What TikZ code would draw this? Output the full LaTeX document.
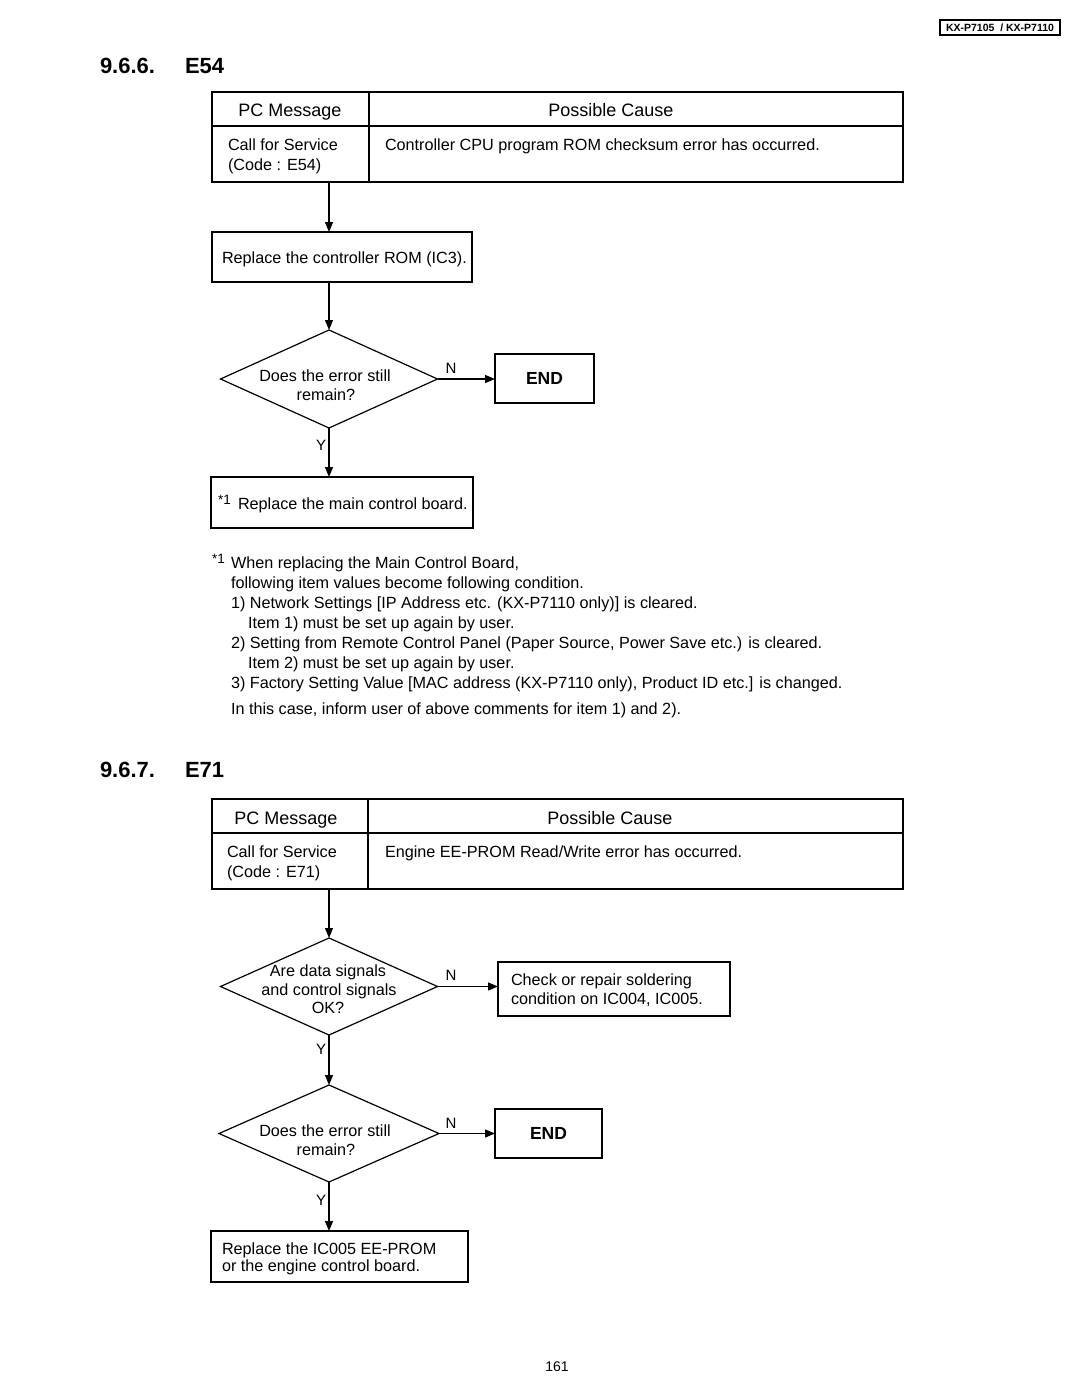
\documentclass[tikz,border=0pt]{standalone}
\usepackage{fontspec}
\setmainfont{Liberation Sans}
\usetikzlibrary{shapes.geometric,arrows.meta}
\begin{document}
\begin{tikzpicture}[x=1pt,y=-1pt,
  every node/.style={inner sep=0pt, outer sep=0pt, font=\fontsize{16.2}{19.5}\selectfont},
  frame/.style={draw, line width=1.3pt, rectangle, anchor=north west},
  dia/.style={draw, line width=1.2pt, diamond, inner sep=0pt},
  arr/.style={line width=1.3pt, -{Triangle[length=10pt,width=8pt]}},
  yn/.style={anchor=base, font=\fontsize{15}{15}\selectfont},
  tl/.style={anchor=base west},
  tc/.style={anchor=base},
  sup/.style={anchor=base west, font=\fontsize{13.5}{13.5}\selectfont},
  hd/.style={anchor=base west, font=\fontsize{22}{22}\selectfont\bfseries},
  th/.style={anchor=base, font=\fontsize{18}{18}\selectfont},
  endbox/.style={frame, font=\fontsize{17.5}{17.5}\selectfont\bfseries}
]
\useasboundingbox (0,0) rectangle (1080,1397);

% header tag
\node[frame, line width=1.1pt, minimum width=120pt, minimum height=15pt] (tag) at (940,20) {};
\node[font=\fontsize{10.5}{10.5}\selectfont\bfseries] (tagtxt) at (tag.center) {KX-P7105\ \ / KX-P7110};

% ===== 9.6.6 E54 =====
\node[hd] (h1a) at (100,73.5) {9.6.6.};
\node[hd] (h1b) at (185,73.5) {E54};

\node[frame, minimum width=691pt, minimum height=90pt] (t1) at (212,92) {};
\draw[line width=1.3pt] (212,126) -- (903,126);
\draw[line width=1.3pt] (369,92) -- (369,182);
\node[th] (t1h1) at (290,116.5) {PC Message};
\node[th] (t1h2) at (611,116.5) {Possible Cause};
\node[tl] (t1a) at (228,150) {Call for Service};
\node[tl] (t1b) at (228,170) {(Code : E54)};
\node[tl] (t1c) at (385,150) {Controller CPU program ROM checksum error has occurred.};

\node[frame, minimum width=260pt, minimum height=50pt] (b1) at (212,232) {};
\node[tl] (b1t) at (222,263) {Replace the controller ROM (IC3).};

\node[dia, minimum width=217pt, minimum height=98pt] (d1) at (329,379) {};
\node[tc] (d1a) at (325,381) {Does the error still};
\node[tc] (d1b) at (326,400) {remain?};

\node[endbox, minimum width=99pt, minimum height=49pt] (e1) at (495,354) {END};

\node[frame, minimum width=262pt, minimum height=51pt] (b3) at (211,477) {};
\node[sup] (b3s) at (218,504) {*1};
\node[tl] (b3t) at (238,509) {Replace the main control board.};

\draw[arr] (t1.south -| d1.north) -- (b1.north -| d1.north);
\draw[arr] (b1.south -| d1.north) -- (d1.north);
\draw[arr] (d1.east) -- (d1.east -| e1.west);
\draw[arr] (d1.south) -- (b3.north -| d1.south);
\node[yn] (n1) at (451,373) {N};
\node[yn] (y1) at (321,450) {Y};

% footnote
\node[sup] (f0s) at (212,563) {*1};
\node[tl] (f0) at (231,568) {When replacing the Main Control Board,};
\node[tl] (f1) at (231,588) {following item values become following condition.};
\node[tl] (f2) at (231,608) {1) Network Settings [IP Address etc. (KX-P7110 only)] is cleared.};
\node[tl] (f3) at (248,628) {Item 1) must be set up again by user.};
\node[tl] (f4) at (231,648) {2) Setting from Remote Control Panel (Paper Source, Power Save etc.) is cleared.};
\node[tl] (f5) at (248,668) {Item 2) must be set up again by user.};
\node[tl] (f6) at (231,688) {3) Factory Setting Value [MAC address (KX-P7110 only), Product ID etc.] is changed.};
\node[tl] (f7) at (231,714) {In this case, inform user of above comments for item 1) and 2).};

% ===== 9.6.7 E71 =====
\node[hd] (h2a) at (100,777.5) {9.6.7.};
\node[hd] (h2b) at (185,777.5) {E71};

\node[frame, minimum width=691pt, minimum height=90pt] (t2) at (212,799) {};
\draw[line width=1.3pt] (212,833) -- (903,833);
\draw[line width=1.3pt] (368,799) -- (368,889);
\node[th] (t2h1) at (286,824.5) {PC Message};
\node[th] (t2h2) at (610,824.5) {Possible Cause};
\node[tl] (t2a) at (227,857) {Call for Service};
\node[tl] (t2b) at (227,877) {(Code : E71)};
\node[tl] (t2c) at (385,857) {Engine EE-PROM Read/Write error has occurred.};

\node[dia, minimum width=217pt, minimum height=97pt] (d2) at (329,986.5) {};
\node[tc] (d2a) at (328,976) {Are data signals};
\node[tc] (d2b) at (329,995) {and control signals};
\node[tc] (d2c) at (328,1013) {OK?};

\node[frame, minimum width=232pt, minimum height=54pt] (b4) at (498,962) {};
\node[tl] (b4a) at (511,985) {Check or repair soldering};
\node[tl] (b4b) at (511,1004) {condition on IC004, IC005.};

\node[dia, minimum width=220pt, minimum height=97pt] (d3) at (329,1133.5) {};
\node[tc] (d3a) at (325,1136) {Does the error still};
\node[tc] (d3b) at (326,1155) {remain?};

\node[endbox, minimum width=107pt, minimum height=49pt] (e2) at (495,1109) {END};

\node[frame, minimum width=257pt, minimum height=51pt] (b5) at (211,1231) {};
\node[tl] (b5a) at (222,1254) {Replace the IC005 EE-PROM};
\node[tl] (b5b) at (222,1271) {or the engine control board.};

\draw[arr] (t2.south -| d2.north) -- (d2.north);
\draw[arr] (d2.east) -- (d2.east -| b4.west);
\draw[arr] (d2.south) -- (d3.north);
\draw[arr] (d3.east) -- (d3.east -| e2.west);
\draw[arr] (d3.south) -- (b5.north -| d3.south);
\node[yn] (n2) at (451,980) {N};
\node[yn] (y2) at (321,1054) {Y};
\node[yn] (n3) at (451,1128) {N};
\node[yn] (y3) at (321,1205) {Y};

\node[tc, font=\fontsize{14}{14}\selectfont] (pg) at (557,1371) {161};
\end{tikzpicture}
\end{document}
